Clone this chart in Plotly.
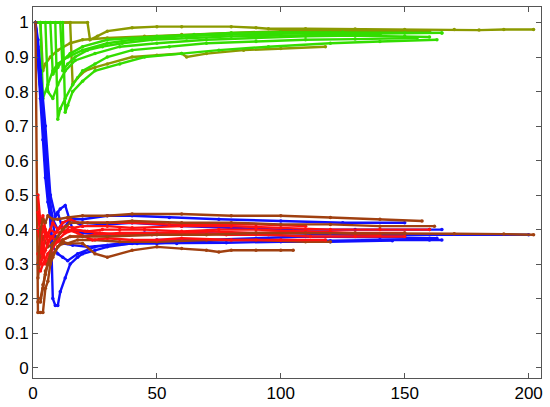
import plotly.graph_objects as go

# green / olive runs (upper bundle)
olive1_x = [1, 22, 23, 26, 30, 40, 50, 60, 80, 90, 95, 110, 130, 150, 170, 180, 190, 202]
olive1_y = [1, 1, 0.95, 0.96, 0.975, 0.985, 0.988, 0.988, 0.988, 0.985, 0.982, 0.982, 0.981, 0.98, 0.98, 0.978, 0.98, 0.98]
green1_x = [1, 3, 4, 6, 8, 10, 14, 20, 30, 40, 60, 80, 100, 120, 140, 165]
green1_y = [1, 1, 0.78, 0.82, 0.86, 0.88, 0.9, 0.92, 0.94, 0.95, 0.96, 0.965, 0.968, 0.97, 0.968, 0.97]
green2_x = [1, 5, 6, 8, 10, 13, 17, 25, 35, 50, 70, 90, 110, 130, 150, 160]
green2_y = [1, 1, 0.8, 0.78, 0.82, 0.86, 0.89, 0.91, 0.93, 0.94, 0.95, 0.955, 0.96, 0.962, 0.96, 0.958]
green3_x = [1, 9, 10, 11, 13, 16, 20, 25, 30, 40, 55, 70, 90, 110, 130, 155]
green3_y = [1, 1, 0.72, 0.75, 0.78, 0.82, 0.86, 0.88, 0.9, 0.92, 0.93, 0.94, 0.945, 0.95, 0.952, 0.955]
green4_x = [1, 12, 13, 14, 16, 20, 25, 35, 45, 60, 75, 95, 120, 140, 163]
green4_y = [1, 1, 0.74, 0.76, 0.8, 0.83, 0.86, 0.88, 0.9, 0.91, 0.92, 0.93, 0.94, 0.945, 0.95]
green5_x = [1, 7, 8, 10, 12, 15, 20, 30, 40, 50, 65, 80, 100, 125, 150, 165]
green5_y = [1, 1, 0.85, 0.87, 0.89, 0.91, 0.93, 0.95, 0.955, 0.96, 0.965, 0.97, 0.972, 0.972, 0.97, 0.97]
green6_x = [1, 11, 12, 14, 17, 22, 28, 36, 48, 62, 80, 100, 120, 140]
green6_y = [1, 1, 0.86, 0.88, 0.9, 0.92, 0.93, 0.94, 0.95, 0.955, 0.96, 0.962, 0.965, 0.965]
olive2_x = [1, 15, 16, 18, 21, 25, 30, 40, 50, 60, 62, 70, 85, 100, 118]
olive2_y = [1, 1, 0.82, 0.84, 0.86, 0.87, 0.88, 0.9, 0.905, 0.91, 0.9, 0.91, 0.92, 0.925, 0.93]
olive3_x = [1, 3, 4, 5, 7, 10, 15, 20, 30, 45, 60, 80, 100, 120, 150, 160]
olive3_y = [1, 1, 0.86, 0.88, 0.9, 0.92, 0.94, 0.95, 0.955, 0.96, 0.965, 0.97, 0.975, 0.977, 0.975, 0.975]

# blue runs
blue1_x = [1, 2, 3, 4, 5, 6, 7, 8, 9, 10, 11, 13, 15, 18, 20, 25, 30, 40, 50, 60, 80, 100, 120, 140, 160, 165]
blue1_y = [1, 0.9, 0.8, 0.7, 0.6, 0.55, 0.45, 0.2, 0.18, 0.18, 0.22, 0.26, 0.3, 0.32, 0.33, 0.34, 0.35, 0.36, 0.36, 0.365, 0.37, 0.37, 0.368, 0.37, 0.37, 0.37]
blue2_x = [1, 2, 3, 4, 5, 6, 7, 8, 10, 12, 15, 20, 30, 40, 60, 80, 100, 130, 160, 165]
blue2_y = [1, 0.88, 0.78, 0.66, 0.55, 0.48, 0.44, 0.42, 0.45, 0.4, 0.43, 0.41, 0.415, 0.42, 0.41, 0.405, 0.4, 0.4, 0.4, 0.4]
blue3_x = [1, 2, 3, 4, 5, 6, 8, 10, 12, 14, 18, 25, 35, 50, 70, 90, 110, 140, 163]
blue3_y = [1, 0.92, 0.84, 0.74, 0.6, 0.5, 0.35, 0.33, 0.32, 0.31, 0.33, 0.35, 0.36, 0.37, 0.37, 0.375, 0.38, 0.378, 0.375]
blue4_x = [1, 2, 3, 5, 7, 9, 11, 13, 16, 20, 30, 45, 60, 80, 100, 130, 160, 200]
blue4_y = [1, 0.95, 0.86, 0.7, 0.5, 0.44, 0.46, 0.47, 0.4, 0.39, 0.385, 0.39, 0.39, 0.388, 0.39, 0.385, 0.385, 0.385]
blue5_x = [1, 2, 3, 4, 6, 8, 10, 12, 15, 20, 30, 40, 55, 75, 100, 125, 150]
blue5_y = [1, 0.9, 0.82, 0.7, 0.52, 0.43, 0.4, 0.42, 0.43, 0.43, 0.44, 0.44, 0.435, 0.43, 0.425, 0.42, 0.42]
blue6_x = [1, 2, 3, 4, 5, 7, 9, 12, 16, 22, 30, 42, 58, 78, 100, 120, 145]
blue6_y = [1, 0.93, 0.85, 0.72, 0.62, 0.46, 0.38, 0.36, 0.355, 0.35, 0.355, 0.36, 0.36, 0.362, 0.365, 0.365, 0.368]

# red runs
red1_x = [2, 3, 4, 5, 6, 8, 10, 13, 16, 20, 30, 40, 60, 80, 100, 120, 140, 160]
red1_y = [0.3, 0.35, 0.32, 0.4, 0.38, 0.42, 0.4, 0.41, 0.405, 0.41, 0.41, 0.405, 0.41, 0.41, 0.405, 0.4, 0.4, 0.4]
red2_x = [2, 3, 4, 5, 7, 9, 12, 15, 20, 25, 35, 50, 70, 90, 110, 130, 150]
red2_y = [0.45, 0.38, 0.35, 0.3, 0.33, 0.36, 0.37, 0.38, 0.38, 0.385, 0.39, 0.39, 0.395, 0.39, 0.395, 0.39, 0.39]
red3_x = [2, 3, 4, 6, 8, 10, 12, 15, 18, 22, 30, 40, 55, 70, 90, 110]
red3_y = [0.5, 0.42, 0.44, 0.36, 0.38, 0.4, 0.42, 0.43, 0.42, 0.42, 0.42, 0.42, 0.415, 0.415, 0.415, 0.41]
red4_x = [2, 3, 5, 7, 9, 11, 14, 18, 24, 30, 40, 50, 60, 80, 100, 118]
red4_y = [0.33, 0.3, 0.34, 0.38, 0.37, 0.39, 0.4, 0.39, 0.37, 0.375, 0.37, 0.37, 0.375, 0.37, 0.37, 0.37]
red5_x = [3, 4, 6, 8, 10, 13, 17, 22, 28, 35, 45, 60, 75, 90, 105, 120, 140]
red5_y = [0.28, 0.3, 0.33, 0.35, 0.37, 0.39, 0.4, 0.395, 0.4, 0.4, 0.4, 0.395, 0.4, 0.4, 0.395, 0.39, 0.385]
red6_x = [2, 3, 4, 5, 7, 9, 12, 16, 21, 27, 35, 48, 62, 78, 95, 112, 130, 150]
red6_y = [0.4, 0.36, 0.41, 0.38, 0.4, 0.39, 0.395, 0.4, 0.395, 0.39, 0.385, 0.385, 0.39, 0.385, 0.385, 0.38, 0.38, 0.38]

# brown runs
brown1_x = [2, 3, 4, 5, 6, 8, 10, 14, 20, 30, 40, 60, 80, 100, 120, 140, 157]
brown1_y = [0.3, 0.4, 0.43, 0.42, 0.44, 0.43, 0.43, 0.435, 0.44, 0.44, 0.445, 0.445, 0.44, 0.44, 0.435, 0.43, 0.425]
brown2_x = [1, 2, 3, 4, 5, 6, 7, 8, 10, 12, 15, 20, 25, 30, 40, 50, 60, 70, 75, 80, 90, 100, 105]
brown2_y = [1, 0.16, 0.16, 0.16, 0.23, 0.25, 0.3, 0.32, 0.35, 0.36, 0.36, 0.36, 0.33, 0.32, 0.34, 0.35, 0.345, 0.34, 0.335, 0.34, 0.34, 0.34, 0.34]
brown3_x = [2, 3, 4, 5, 6, 8, 10, 12, 15, 20, 30, 50, 70, 90, 110, 130, 150, 170, 190, 202]
brown3_y = [0.19, 0.19, 0.23, 0.28, 0.3, 0.33, 0.35, 0.37, 0.38, 0.38, 0.38, 0.385, 0.385, 0.39, 0.39, 0.39, 0.39, 0.388, 0.387, 0.385]
brown4_x = [3, 4, 5, 6, 8, 10, 12, 15, 20, 30, 40, 60, 80, 100, 120, 140, 162]
brown4_y = [0.2, 0.24, 0.27, 0.3, 0.36, 0.38, 0.4, 0.42, 0.42, 0.42, 0.425, 0.42, 0.42, 0.415, 0.415, 0.41, 0.41]
brown5_x = [2, 3, 4, 6, 8, 10, 14, 18, 25, 35, 50, 70, 90, 110, 120]
brown5_y = [0.26, 0.32, 0.38, 0.35, 0.36, 0.37, 0.36, 0.37, 0.37, 0.365, 0.365, 0.37, 0.37, 0.365, 0.365]

GREEN = '#33dd00'
OLIVE = '#8c9a00'
BLUE = '#1010ff'
RED = '#ff1010'
BROWN = '#a04010'

runs = [
    (olive1_x, olive1_y, OLIVE), (olive3_x, olive3_y, OLIVE), (olive2_x, olive2_y, OLIVE),
    (green1_x, green1_y, GREEN), (green2_x, green2_y, GREEN), (green3_x, green3_y, GREEN),
    (green4_x, green4_y, GREEN), (green5_x, green5_y, GREEN), (green6_x, green6_y, GREEN),
    (blue1_x, blue1_y, BLUE), (blue2_x, blue2_y, BLUE), (blue3_x, blue3_y, BLUE),
    (blue4_x, blue4_y, BLUE), (blue5_x, blue5_y, BLUE), (blue6_x, blue6_y, BLUE),
    (brown2_x, brown2_y, BROWN), (brown5_x, brown5_y, BROWN),
    (red1_x, red1_y, RED), (red2_x, red2_y, RED), (red3_x, red3_y, RED),
    (red4_x, red4_y, RED), (red5_x, red5_y, RED), (red6_x, red6_y, RED),
    (brown1_x, brown1_y, BROWN), (brown3_x, brown3_y, BROWN), (brown4_x, brown4_y, BROWN),
]

fig = go.Figure()
for xs, ys, color in runs:
    fig.add_trace(go.Scatter(x=xs, y=ys, mode='lines+markers',
                             line=dict(color=color, width=2.4),
                             marker=dict(color=color, size=3.5),
                             showlegend=False))

axis_style = dict(showgrid=False, zeroline=False, showline=True, linecolor='#555555',
                  linewidth=1, mirror='ticks', ticks='inside', ticklen=5, automargin=False,
                  tickcolor='#555555', tickfont=dict(family='Arial', size=17, color='black'))

fig.update_xaxes(range=[0, 205], tickvals=[0, 50, 100, 150, 200], **axis_style)
fig.update_yaxes(range=[-0.03, 1.045], dtick=0.1, tick0=0, **axis_style)

fig.update_layout(width=550, height=407,
                  margin={"r": 9, "t": 7, "l": 33, "b": 29},
                  plot_bgcolor='white', paper_bgcolor='white')

# drop the page's default body margin so the figure sits at the window corner
fig.write_html("out.html", config={'displayModeBar': False},
               post_script="document.body.style.margin = '0';")
